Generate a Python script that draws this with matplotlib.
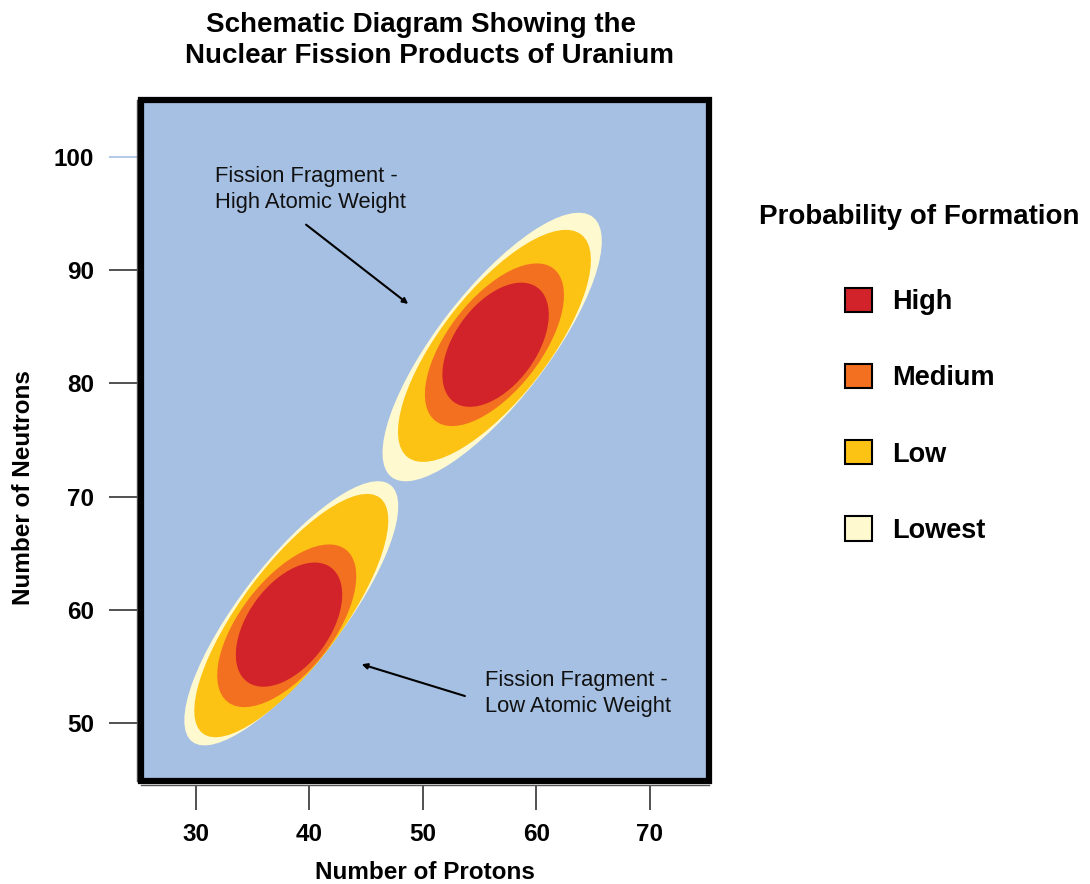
import matplotlib.pyplot as plt
from matplotlib.patches import Ellipse, Rectangle, Patch

plt.rcParams['font.family'] = ['Liberation Sans', 'DejaVu Sans']

# probability levels, drawn outermost first
levels = ['Lowest', 'Low', 'Medium', 'High']
level_colors = ['#FFF9D0', '#FDC314', '#F37021', '#D2232A']

# low atomic weight fragment (protons, neutrons, width, height, angle)
low_x = [38.4, 38.4, 38.0, 38.2]
low_y = [59.7, 59.5, 58.6, 58.7]
low_w = [28.6, 26.0, 17.0, 12.5]
low_h = [9.0, 8.8, 8.2, 7.2]
low_ang = [52.4, 53.2, 52.3, 54.0]

# high atomic weight fragment
high_x = [56.1, 56.3, 56.3, 56.4]
high_y = [83.2, 83.3, 83.4, 83.4]
high_w = [29.0, 24.9, 17.0, 12.5]
high_h = [9.7, 9.4, 8.2, 7.2]
high_ang = [52.3, 52.1, 52.3, 54.0]

x_ticks = [30, 40, 50, 60, 70]
y_ticks = [50, 60, 70, 80, 90, 100]

fig = plt.figure(figsize=(10.9, 8.84), dpi=100)
ax = fig.add_axes([0.1298, 0.1165, 0.5206, 0.7704])
ax.set_facecolor('#A6C0E3')
ax.set_xlim(25.2, 75.2)
ax.set_ylim(44.9, 105.0)

for i in range(len(levels)):
    ax.add_patch(Ellipse((low_x[i], low_y[i]), low_w[i], low_h[i],
                         angle=low_ang[i], color=level_colors[i], lw=0))
    ax.add_patch(Ellipse((high_x[i], high_y[i]), high_w[i], high_h[i],
                         angle=high_ang[i], color=level_colors[i], lw=0))

# annotations
ax.text(31.7, 99.2, 'Fission Fragment -\nHigh Atomic Weight', fontsize=15.8,
        va='top', ha='left', linespacing=1.3, color='#111111')
ax.annotate('', xy=(48.7, 87.0), xytext=(39.7, 94.0),
            arrowprops=dict(arrowstyle='-|>', color='black', lw=1.5,
                            mutation_scale=8, shrinkA=0, shrinkB=0))
ax.text(55.5, 54.7, 'Fission Fragment -\nLow Atomic Weight', fontsize=15.8,
        va='top', ha='left', linespacing=1.3, color='#111111')
ax.annotate('', xy=(44.6, 55.2), xytext=(53.7, 52.4),
            arrowprops=dict(arrowstyle='-|>', color='black', lw=1.5,
                            mutation_scale=8, shrinkA=0, shrinkB=0))

# frame: thin offset axis lines plus a heavy box
for side in ['top', 'right']:
    ax.spines[side].set_visible(False)
for side in ['left', 'bottom']:
    ax.spines[side].set_position(('outward', 3))
    ax.spines[side].set_linewidth(1.0)
    ax.spines[side].set_color('#555555')
ax.add_patch(Rectangle((0, 0), 1, 1, transform=ax.transAxes, fill=False,
                       lw=4.5, edgecolor='black', clip_on=False, zorder=5))

ax.set_xticks(x_ticks)
ax.set_yticks(y_ticks)
ax.tick_params(axis='both', direction='out', width=1.2, color='#333333',
               labelsize=17.5)
ax.tick_params(axis='y', length=20, pad=11)
ax.tick_params(axis='x', length=18, pad=9)
for lab in ax.get_xticklabels() + ax.get_yticklabels():
    lab.set_fontweight('bold')
for tick in ax.yaxis.get_major_ticks():
    if tick.get_loc() == 100:
        tick.tick1line.set_markeredgecolor('#A6C0E3')

ax.set_xlabel('Number of Protons', fontsize=17.5, fontweight='bold', labelpad=11)
ax.set_ylabel('Number of Neutrons', fontsize=17.5, fontweight='bold')
ax.yaxis.set_label_coords(-0.187, 0.431)

fig.text(0.3936, 0.986, 'Schematic Diagram Showing the  \nNuclear Fission Products of Uranium',
         ha='center', va='top', fontsize=20, fontweight='bold', linespacing=1.25)

handles = [Patch(facecolor=level_colors[i], edgecolor='black', lw=1.5, label=levels[i])
           for i in range(len(levels) - 1, -1, -1)]
leg = fig.legend(handles=handles, loc='upper left', bbox_to_anchor=(0.6843, 0.785),
                 frameon=False, title='Probability of Formation',
                 prop={'size': 19.5, 'weight': 'bold'},
                 title_fontproperties={'size': 20, 'weight': 'bold'},
                 handlelength=1.0, handleheight=1.0, handletextpad=0.75,
                 labelspacing=1.8, borderpad=0)
leg._legend_box.sep = 42

fig.savefig('out.png', dpi=100)
